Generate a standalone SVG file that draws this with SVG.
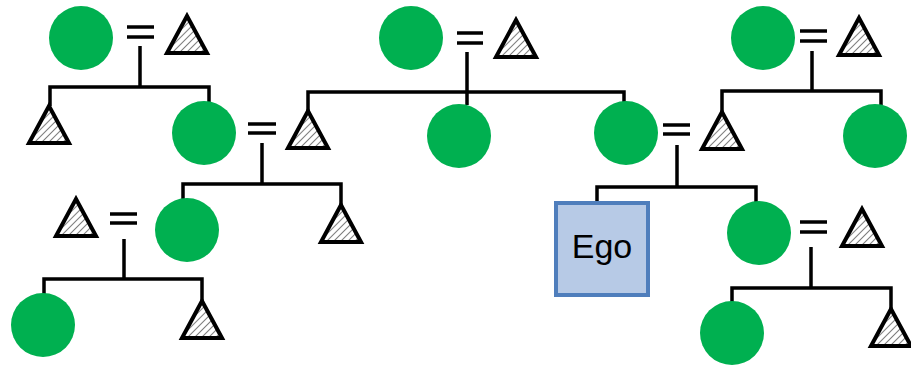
<svg xmlns="http://www.w3.org/2000/svg" width="911" height="365" viewBox="0 0 911 365">
  <defs>
    <pattern id="hatch" width="5" height="5" patternUnits="userSpaceOnUse" patternTransform="rotate(45)">
      <rect width="5" height="5" fill="#ffffff"/>
      <line x1="0" y1="0" x2="0" y2="5" stroke="#3a3a3a" stroke-width="1.3"/>
    </pattern>
    <!-- male symbol: apex at origin -->
    <polygon id="tri" points="0,0 -20,37 20,37"/>
  </defs>
  <style>
    .f { fill: #00B050; }
    .m { fill: url(#hatch); stroke: #000; stroke-width: 4; stroke-linejoin: miter; }
    .ln { fill: none; stroke: #000; stroke-width: 3.5; }
    .eq { stroke: #000; stroke-width: 3.5; }
    .ego { fill: #B7CAE6; stroke: #4F7EBC; stroke-width: 4; }
    .lbl { font-family: "Liberation Sans", Arial, sans-serif; font-size: 34px; fill: #000; }
  </style>

  <rect width="911" height="365" fill="#ffffff"/>

  <!-- descent lines and marriage signs -->
  <g id="connectors">
    <!-- top-left couple -->
    <line class="eq" x1="127" y1="27" x2="154" y2="27"/>
    <line class="eq" x1="127" y1="37" x2="154" y2="37"/>
    <path class="ln" d="M140,46 V87 M50,106 V87 H209 V102"/>
    <!-- couple at middle-left -->
    <line class="eq" x1="248" y1="124" x2="276" y2="124"/>
    <line class="eq" x1="248" y1="133" x2="276" y2="133"/>
    <path class="ln" d="M262,143 V184 M183,199 V184 H341 V205"/>
    <!-- top-centre couple -->
    <line class="eq" x1="457" y1="33" x2="483" y2="33"/>
    <line class="eq" x1="457" y1="43" x2="483" y2="43"/>
    <path class="ln" d="M467,52 V105 M308,111 V92 H624 V102"/>
    <!-- top-right couple -->
    <line class="eq" x1="800" y1="31" x2="827" y2="31"/>
    <line class="eq" x1="800" y1="41" x2="827" y2="41"/>
    <path class="ln" d="M812,51 V91 M722,113 V91 H881 V105"/>
    <!-- Ego's parents -->
    <line class="eq" x1="663" y1="125" x2="690" y2="125"/>
    <line class="eq" x1="663" y1="134" x2="690" y2="134"/>
    <path class="ln" d="M677,145 V187 M597,202 V187 H756 V202"/>
    <!-- bottom-right couple -->
    <line class="eq" x1="800" y1="222" x2="827" y2="222"/>
    <line class="eq" x1="800" y1="232" x2="827" y2="232"/>
    <path class="ln" d="M811,247 V288 M732,302 V288 H891 V310"/>
    <!-- bottom-left couple -->
    <line class="eq" x1="110" y1="214" x2="137" y2="214"/>
    <line class="eq" x1="110" y1="223" x2="137" y2="223"/>
    <path class="ln" d="M124,239 V279 M44,294 V279 H202 V302"/>
  </g>

  <!-- females -->
  <g id="f1"><circle class="f" cx="81" cy="38" r="32"/></g>
  <g id="f2"><circle class="f" cx="204" cy="133" r="32"/></g>
  <g id="f3"><circle class="f" cx="187" cy="230" r="32"/></g>
  <g id="f4"><circle class="f" cx="411" cy="38" r="32"/></g>
  <g id="f5"><circle class="f" cx="459" cy="136" r="32"/></g>
  <g id="f6"><circle class="f" cx="626" cy="133" r="32"/></g>
  <g id="f7"><circle class="f" cx="763" cy="38" r="32"/></g>
  <g id="f8"><circle class="f" cx="875" cy="136" r="32"/></g>
  <g id="f9"><circle class="f" cx="759" cy="233" r="32"/></g>
  <g id="f10"><circle class="f" cx="732" cy="333" r="32"/></g>
  <g id="f11"><circle class="f" cx="43" cy="325" r="32"/></g>

  <!-- males -->
  <g id="m1"><use href="#tri" class="m" x="187" y="16"/></g>
  <g id="m2"><use href="#tri" class="m" x="49" y="106"/></g>
  <g id="m3"><use href="#tri" class="m" x="308" y="111"/></g>
  <g id="m4"><use href="#tri" class="m" x="341" y="205"/></g>
  <g id="m5"><use href="#tri" class="m" x="516" y="20"/></g>
  <g id="m6"><use href="#tri" class="m" x="859" y="18"/></g>
  <g id="m7"><use href="#tri" class="m" x="722" y="112"/></g>
  <g id="m8"><use href="#tri" class="m" x="862" y="209"/></g>
  <g id="m9"><use href="#tri" class="m" x="891" y="309"/></g>
  <g id="m10"><use href="#tri" class="m" x="76" y="199"/></g>
  <g id="m11"><use href="#tri" class="m" x="202" y="301"/></g>

  <!-- Ego -->
  <g id="ego">
    <rect class="ego" x="556" y="203" width="92" height="92"/>
    <text class="lbl" x="602" y="258" text-anchor="middle">Ego</text>
  </g>
</svg>
